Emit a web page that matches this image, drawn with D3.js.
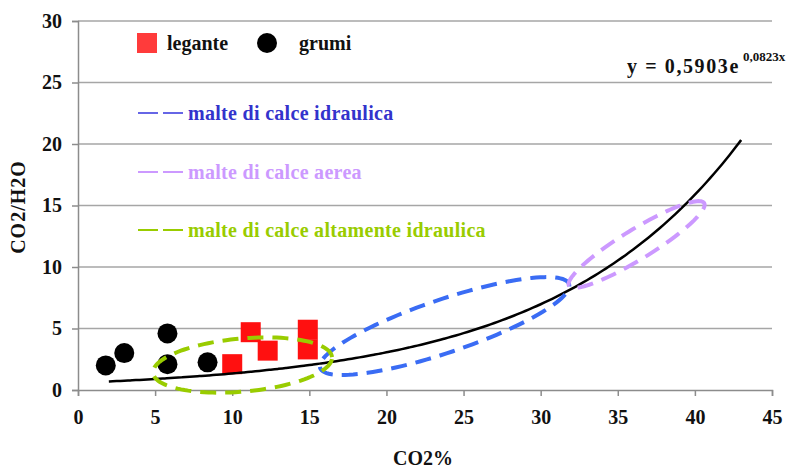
<!DOCTYPE html>
<html>
<head>
<meta charset="utf-8">
<script src="https://cdn.jsdelivr.net/npm/d3@7"></script>
<style>
  html, body { margin: 0; padding: 0; background: #fff; }
  svg { display: block; }
  svg text { font-family: "Liberation Serif", "Times New Roman", serif; font-weight: bold; }
</style>
</head>
<body>
<svg id="chart" width="789" height="468"></svg>
<script>
// Tick values
const xTicks = [0, 5, 10, 15, 20, 25, 30, 35, 40, 45];
const yTicks = [0, 5, 10, 15, 20, 25, 30];

// Point series: CO2% vs CO2/H2O
const leganteX = [10.0, 11.2, 12.3, 14.9, 14.9];
const leganteY = [2.1, 4.7, 3.2, 4.9, 3.3];
const grumiX = [1.8, 3.0, 5.8, 5.8, 8.4];
const grumiY = [2.0, 3.0, 4.6, 2.1, 2.25];

// Exponential trend: y = a * e^(b x)
const trendA = 0.5903;
const trendB = 0.0823;
const trendRange = [2, 43];

// Mortar-type regions (ellipses in data units: centre, two conjugate semi-axes)
const regionNames = ["malte di calce idraulica", "malte di calce aerea", "malte di calce altamente idraulica"];
const regionCenter = [[23.77, 5.20], [36.22, 11.83], [10.67, 2.03]];
const regionAxisA = [[8.07, 3.41], [4.38, 3.37], [5.80, 0.65]];
const regionAxisB = [[-0.55, 2.05], [-0.51, 1.04], [-0.16, 2.15]];

const regionStroke = ["#3a6cf4", "#cc99ff", "#99cc00"];
const regionText = ["#3333cc", "#cc99ff", "#99cc00"];
const regionLegendLine = ["#6666e6", "#cc99ff", "#99cc00"];

const FONT = "Liberation Serif";

const svg = d3.select("#chart");
const x = d3.scaleLinear().domain([0, 45]).range([78, 772]);
const y = d3.scaleLinear().domain([0, 30]).range([390, 21]);

const gridColor = "#a6a6a6";
const axisColor = "#8c8c8c";

// Horizontal gridlines
svg.append("g")
  .selectAll("line")
  .data(yTicks.filter(d => d > 0))
  .join("line")
  .attr("x1", x(0)).attr("x2", x(45))
  .attr("y1", d => y(d)).attr("y2", d => y(d))
  .attr("stroke", gridColor).attr("stroke-width", 1.5);

// Y axis
const yAxis = svg.append("g")
  .attr("transform", `translate(${x(0)},0)`)
  .call(d3.axisLeft(y).tickValues(yTicks).tickSize(6).tickPadding(10).tickFormat(d3.format("d")));
yAxis.attr("font-family", FONT);
yAxis.select(".domain").attr("stroke", axisColor).attr("stroke-width", 1.5);
yAxis.selectAll(".tick line").attr("stroke", axisColor).attr("stroke-width", 1.5);
yAxis.selectAll(".tick text")
  .attr("fill", "#111").attr("font-size", 20)
  .attr("dy", "0.32em");

// X axis
const xAxis = svg.append("g")
  .attr("transform", `translate(0,${y(0)})`)
  .call(d3.axisBottom(x).tickValues(xTicks).tickSize(6).tickPadding(14).tickFormat(d3.format("d")));
xAxis.attr("font-family", FONT);
xAxis.select(".domain").attr("stroke", axisColor).attr("stroke-width", 1.5);
xAxis.selectAll(".tick line").attr("stroke", axisColor).attr("stroke-width", 1.5);
xAxis.selectAll(".tick text")
  .attr("fill", "#111").attr("font-size", 20);

// Axis titles
svg.append("text")
  .attr("x", 423).attr("y", 465)
  .attr("text-anchor", "middle")
  .attr("font-size", 20).attr("fill", "#111")
  .text("CO2%");
svg.append("text")
  .attr("transform", `translate(25,207) rotate(-90)`)
  .attr("text-anchor", "middle")
  .attr("font-size", 20).attr("letter-spacing", 1).attr("fill", "#111")
  .text("CO2/H2O");

// Data points
const sq = 20;
svg.append("g")
  .selectAll("rect")
  .data(d3.range(leganteX.length))
  .join("rect")
  .attr("x", i => x(leganteX[i]) - sq / 2)
  .attr("y", i => y(leganteY[i]) - sq / 2)
  .attr("width", sq).attr("height", sq)
  .attr("fill", "#ff1010");

svg.append("g")
  .selectAll("circle")
  .data(d3.range(grumiX.length))
  .join("circle")
  .attr("cx", i => x(grumiX[i]))
  .attr("cy", i => y(grumiY[i]))
  .attr("r", 10)
  .attr("fill", "#000");

// Trend curve
const trendXs = d3.range(trendRange[0], trendRange[1] + 0.001, 0.25);
svg.append("path")
  .datum(trendXs)
  .attr("fill", "none")
  .attr("stroke", "#000")
  .attr("stroke-width", 2.5)
  .attr("d", d3.line().x(d => x(d)).y(d => y(trendA * Math.exp(trendB * d))).curve(d3.curveBasis));

// Dashed region ellipses
const ellipseLine = d3.line().x(p => x(p[0])).y(p => y(p[1])).curve(d3.curveLinearClosed);
regionNames.forEach((name, i) => {
  const c = regionCenter[i], a = regionAxisA[i], b = regionAxisB[i];
  const pts = d3.range(0, 360, 3).map(deg => {
    const t = deg * Math.PI / 180;
    return [c[0] + a[0] * Math.cos(t) + b[0] * Math.sin(t),
            c[1] + a[1] * Math.cos(t) + b[1] * Math.sin(t)];
  });
  svg.append("path")
    .attr("d", ellipseLine(pts))
    .attr("fill", "none")
    .attr("stroke", regionStroke[i])
    .attr("stroke-width", 4)
    .attr("stroke-dasharray", "16,9");
});

// Point legend
svg.append("rect").attr("x", 137).attr("y", 33).attr("width", 20).attr("height", 20).attr("fill", "#ff3b3b");
svg.append("text").attr("x", 167).attr("y", 50).attr("font-size", 20).attr("fill", "#111").text("legante");
svg.append("circle").attr("cx", 267).attr("cy", 43).attr("r", 10).attr("fill", "#000");
svg.append("text").attr("x", 299).attr("y", 50).attr("font-size", 20).attr("fill", "#111").text("grumi");

// Region legend
const legendRows = [113, 172, 230];
regionNames.forEach((name, i) => {
  const ly = legendRows[i];
  svg.append("line")
    .attr("x1", 138).attr("x2", 183).attr("y1", ly).attr("y2", ly)
    .attr("stroke", regionLegendLine[i]).attr("stroke-width", 2)
    .attr("stroke-dasharray", "20,5");
  svg.append("text")
    .attr("x", 188).attr("y", ly + 7)
    .attr("font-size", 20).attr("letter-spacing", 0.3)
    .attr("fill", regionText[i])
    .text(name);
});

// Trend equation
svg.append("text")
  .attr("x", 627).attr("y", 73)
  .attr("font-size", 20).attr("letter-spacing", 1.6).attr("fill", "#111")
  .text("y = " + trendA.toString().replace(".", ",") + "e");
svg.append("text")
  .attr("x", 743).attr("y", 61)
  .attr("font-size", 13).attr("fill", "#111")
  .text(trendB.toString().replace(".", ",") + "x");

// Make sure every label uses the serif face
svg.selectAll("text").attr("font-family", FONT).attr("font-weight", "bold");
</script>
</body>
</html>
